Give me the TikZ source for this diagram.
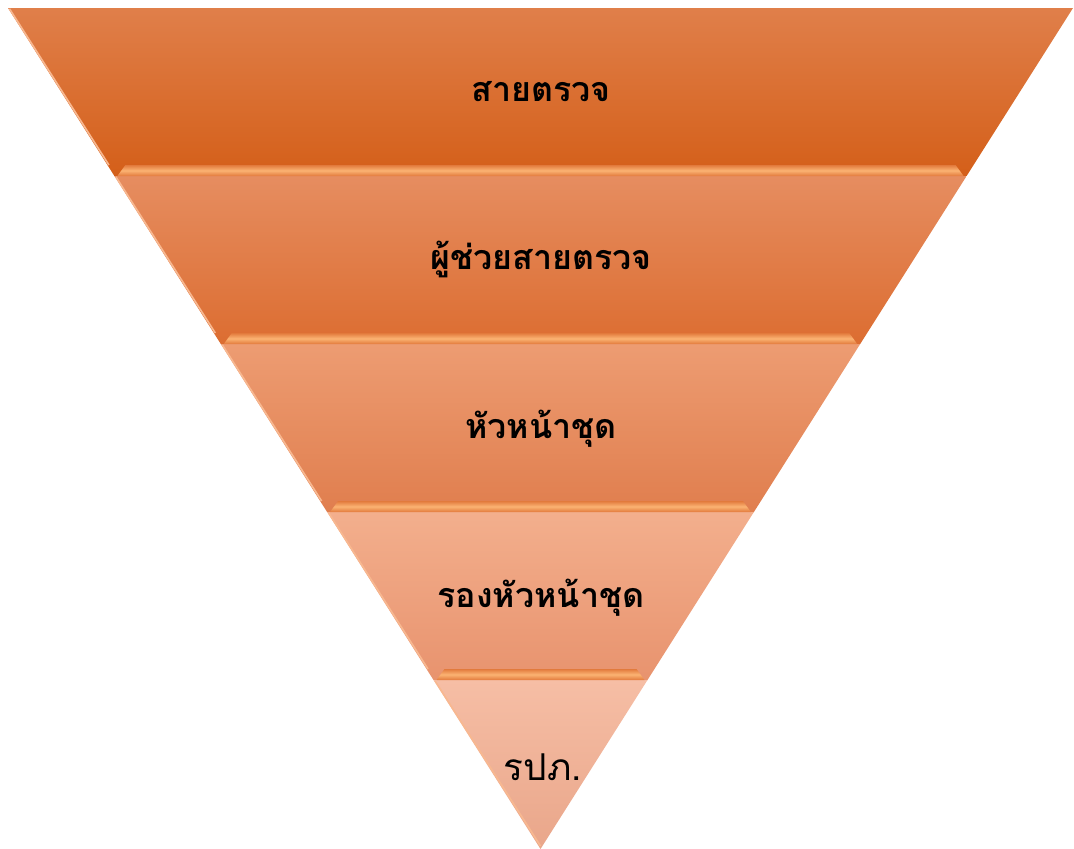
\documentclass[tikz,border=0pt]{standalone}
\usepackage{fontspec}
\newfontfamily\thaifont[Script=Thai]{Loma}
\usetikzlibrary{calc}

\definecolor{bandAtop}{HTML}{E07F4A}
\definecolor{bandAbot}{HTML}{D45F19}
\definecolor{bandBtop}{HTML}{E68D60}
\definecolor{bandBbot}{HTML}{DC6D31}
\definecolor{bandCtop}{HTML}{ED9C72}
\definecolor{bandCbot}{HTML}{E07E4E}
\definecolor{bandDtop}{HTML}{F3AF8D}
\definecolor{bandDbot}{HTML}{E8936E}
\definecolor{bandEtop}{HTML}{F6BEA5}
\definecolor{bandEbot}{HTML}{E9A68A}
\definecolor{ledgeMid}{HTML}{FBB373}
\definecolor{ledgeEdge}{HTML}{E27A3C}
\definecolor{rimLight}{HTML}{F8B890}

\tikzset{
  level/.style={font=\thaifont\bfseries\fontsize{34}{38}\selectfont, text=black},
  plainlevel/.style={font=\thaifont\fontsize{37}{40}\selectfont, text=black},
  ledge/.style={top color=ledgeEdge, bottom color=ledgeEdge, middle color=ledgeMid},
  rim/.style={draw=rimLight, line width=1.6pt}
}

\begin{document}
\begin{tikzpicture}[x=1pt,y=-1pt]
    \useasboundingbox (0,0) rectangle (1074,849);

    % band corners
    \coordinate (l0) at (8,8);      \coordinate (r0) at (1073,8);
    \coordinate (l1) at (114.4,176); \coordinate (r1) at (966.6,176);
    \coordinate (l2) at (220.8,344); \coordinate (r2) at (860.2,344);
    \coordinate (l3) at (327.1,512); \coordinate (r3) at (753.9,512);
    \coordinate (l4) at (433.5,680); \coordinate (r4) at (647.5,680);
    \coordinate (apex) at (540.5,849);

    % bands
    \shade[top color=bandAtop, bottom color=bandAbot] (l0) -- (r0) -- (r1) -- (l1) -- cycle;
    \shade[top color=bandBtop, bottom color=bandBbot] (l1) -- (r1) -- (r2) -- (l2) -- cycle;
    \shade[top color=bandCtop, bottom color=bandCbot] (l2) -- (r2) -- (r3) -- (l3) -- cycle;
    \shade[top color=bandDtop, bottom color=bandDbot] (l3) -- (r3) -- (r4) -- (l4) -- cycle;
    \shade[top color=bandEtop, bottom color=bandEbot] (l4) -- (r4) -- (apex) -- cycle;

    % left rims
    \draw[rim] ($(l0)+(1.5,0.8)$) -- ($(l1)+(-5.5,-11)$);
    \draw[rim] ($(l1)+(1.5,0.8)$) -- ($(l2)+(-5.5,-11)$);
    \draw[rim] ($(l2)+(1.5,0.8)$) -- ($(l3)+(-5.5,-11)$);
    \draw[rim] ($(l3)+(1.5,0.8)$) -- ($(l4)+(-5.5,-11)$);
    \draw[rim] ($(l4)+(1.5,0.8)$) -- ($(apex)+(0,-3)$);

    % ledges
    \shade[ledge] ($(l1)+(3,0)$) -- ($(l1)+(11,-11)$) -- ($(r1)+(-11,-11)$) -- ($(r1)+(-3,0)$) -- cycle;
    \shade[ledge] ($(l2)+(3,0)$) -- ($(l2)+(11,-11)$) -- ($(r2)+(-11,-11)$) -- ($(r2)+(-3,0)$) -- cycle;
    \shade[ledge] ($(l3)+(3,0)$) -- ($(l3)+(11,-11)$) -- ($(r3)+(-11,-11)$) -- ($(r3)+(-3,0)$) -- cycle;
    \shade[ledge] ($(l4)+(3,0)$) -- ($(l4)+(11,-11)$) -- ($(r4)+(-11,-11)$) -- ($(r4)+(-3,0)$) -- cycle;

    % labels
    \node[level] (inspector) at (541,92) {สายตรวจ};
    \node[level] (assistant) at (541,259) {ผู้ช่วยสายตรวจ};
    \node[level] (leader) at (541,429) {หัวหน้าชุด};
    \node[level] (deputy) at (541,598) {รองหัวหน้าชุด};
    \node[plainlevel] (volunteer) at (543,767) {รปภ.};

\end{tikzpicture}
\end{document}
